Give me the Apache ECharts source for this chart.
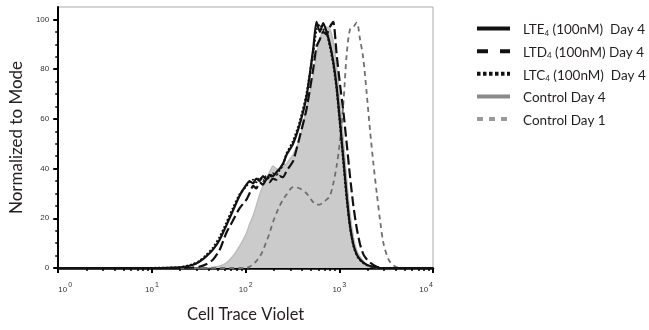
<!DOCTYPE html>
<html><head><meta charset="utf-8">
<script src="https://cdn.jsdelivr.net/npm/echarts@6/dist/echarts.min.js"></script>
<style>html,body{margin:0;padding:0;background:#fff}#c{width:649px;height:330px}</style>
</head><body><div id="c"></div>
<script>
// Cell Trace Violet intensity (x, log scale)
const xValues = [1, 10, 20, 27, 32, 38, 45, 53, 62, 73,
  86, 102, 110, 120, 130, 141, 153, 166, 180, 196,
  213, 231, 251, 273, 321, 379, 447, 526, 571, 620,
  674, 731, 794, 862, 936, 1016, 1104, 1199, 1300, 1413,
  1534, 1665, 1807, 1963, 2132, 2312, 2512, 2727, 2958, 3350,
  3793, 4470, 10000];
// Normalized to Mode (%)
const lte4 = [0, 0, 0.3, 1.2, 2.5, 4.7, 7.5, 11.5, 17, 23,
  29, 33.5, 35, 34, 36, 35, 37, 35.5, 37.5, 37,
  38.5, 40, 42, 45.5, 50, 58, 69, 88, 99, 95,
  98.5, 95, 90, 83, 73, 59, 44, 29, 17, 9.5,
  5.5, 3.4, 2.2, 1.3, 0.8, 0.4, 0.2, 0, 0, 0,
  0, 0, 0];
const ltd4 = [0, 0, 0, 0.2, 0.5, 1.5, 3.4, 7.4, 14, 19,
  24, 27.5, 30, 33, 32, 34.5, 33.5, 35.5, 34.5, 36,
  35.5, 37, 36.5, 39, 43, 53, 64, 80, 89, 92,
  95, 94, 97, 99, 86, 74, 63, 50, 37, 25,
  16, 9.5, 5.5, 3.5, 2.2, 1.2, 0.5, 0.2, 0, 0,
  0, 0, 0];
const ltc4 = [0, 0, 0.3, 1.4, 2.8, 5.2, 8.2, 12.5, 18, 24,
  29.5, 33, 34.5, 35.5, 34.5, 36.5, 35, 37, 36, 38,
  37.5, 39.5, 41.5, 46, 51, 59, 70, 87, 96, 98,
  96, 95, 89, 82, 72, 58, 43, 28, 16.5, 9,
  5.2, 3.2, 2, 1.2, 0.7, 0.3, 0.1, 0, 0, 0,
  0, 0, 0];
const controlDay4 = [0, 0, 0, 0, 0, 0, 0.3, 0.8, 2, 4.7,
  8.7, 14, 17.5, 21, 25, 29.5, 33, 36, 38.5, 41,
  40, 39.5, 40.5, 42, 45.5, 52, 64, 77, 85, 92,
  96, 97, 96, 91, 81, 67, 52, 36, 22, 12.5,
  7, 4.5, 2.8, 1.3, 0.6, 0.2, 0, 0, 0, 0,
  0, 0, 0];
const controlDay1 = [0, 0, 0, 0, 0, 0, 0, 0, 0, 0,
  0, 0, 0.5, 1.5, 2.8, 4.5, 7, 10.5, 14, 18.5,
  22, 25, 27.5, 29.5, 32.5, 32, 30, 26.5, 25.5, 25.5,
  26.5, 27.5, 29, 34, 41, 51, 66, 86, 96, 97,
  98.7, 92, 84, 70, 55, 42, 30, 19, 10, 3.5,
  1, 0, 0];

const seriesNames = ['LTE4 (100nM)  Day 4', 'LTD4 (100nM) Day 4', 'LTC4 (100nM)  Day 4', 'Control Day 4', 'Control Day 1'];

const xMajorTicks = [1, 10, 100, 1000, 10000];
const xMinorTicks = [2, 3, 4, 5, 6, 7, 8, 9, 20, 30, 40, 50, 60, 70, 80, 90,
  200, 300, 400, 500, 600, 700, 800, 900, 2000, 3000, 4000, 5000, 6000, 7000, 8000, 9000];
const yMajorTicks = [0, 20, 40, 60, 80, 100];
const yMinorTicks = [5, 10, 15, 25, 30, 35, 45, 50, 55, 65, 70, 75, 85, 90, 95];

const pairs = arr => xValues.map((x, i) => [x, arr[i]]);
const chart = echarts.init(document.getElementById('c'), null, {renderer: 'canvas'});
const FONT = 'Lato';
const TXT = '#231f20';
const noSymbol = {color: 'rgba(0,0,0,0)', borderColor: 'rgba(0,0,0,0)', borderWidth: 0};

const option = {
  animation: false,
  backgroundColor: '#fff',
  grid: {left: 58, right: 216, top: 7, bottom: 62, show: true, borderColor: '#aaa', borderWidth: 1, backgroundColor: 'transparent'},
  legend: {
    orient: 'vertical', left: 475, top: 23, padding: 0, itemWidth: 33, itemHeight: 14, itemGap: 8.5,
    selectedMode: false,
    textStyle: {fontFamily: FONT, fontSize: 13.5, color: TXT, padding: [0, 0, 0, 8],
      rich: {
        t: {fontFamily: FONT, fontSize: 13.5, color: TXT, lineHeight: 17, verticalAlign: 'bottom'},
        s: {fontFamily: FONT, fontSize: 8, color: TXT, lineHeight: 9, verticalAlign: 'bottom'}
      }},
    formatter: name => {
      const m = name.match(/^(LT[EDC])4(.*)$/);
      return m ? '{t|' + m[1] + '}{s|4}{t|' + m[2] + '}' : '{t|' + name + '}';
    },
    data: [
      {name: seriesNames[0], itemStyle: noSymbol, lineStyle: {color: '#111', width: 4, type: 'solid'}},
      {name: seriesNames[1], itemStyle: noSymbol, lineStyle: {color: '#111', width: 4, type: [11, 12]}},
      {name: seriesNames[2], itemStyle: noSymbol, lineStyle: {color: '#111', width: 4, type: [3.5, 2.5]}},
      {name: seriesNames[3], itemStyle: noSymbol, lineStyle: {color: '#8a8a8a', width: 4, type: 'solid'}},
      {name: seriesNames[4], itemStyle: noSymbol, lineStyle: {color: '#9a9a9a', width: 4, type: [6, 6]}}
    ]
  },
  xAxis: [{
    type: 'log', logBase: 10, min: 1, max: 10000, gridIndex: 0, position: 'bottom',
    axisLine: {show: true, onZero: false, lineStyle: {color: '#000', width: 2.5}},
    axisTick: {show: true, customValues: xMajorTicks, length: 5, lineStyle: {color: '#000', width: 2}},
    axisLabel: {
      customValues: xMajorTicks, margin: 13, alignMinLabel: 'left', alignMaxLabel: 'right',
      formatter: v => '{b|10}{s|' + Math.round(Math.log10(v)) + '}',
      rich: {
        b: {fontFamily: 'Liberation Sans', fontSize: 8, color: '#333', padding: [5, 0, 0, 0]},
        s: {fontFamily: 'Liberation Sans', fontSize: 7, color: '#333', padding: [0, 0, 5, 1]}
      }
    },
    splitLine: {show: false},
    name: 'Cell Trace Violet', nameLocation: 'middle', nameGap: 38,
    nameTextStyle: {fontFamily: FONT, fontSize: 16.5, color: TXT}
  }, {
    type: 'log', logBase: 10, min: 1, max: 10000, gridIndex: 0, position: 'bottom',
    axisLine: {show: false},
    axisTick: {show: true, customValues: xMinorTicks, length: 3, lineStyle: {color: '#000', width: 1.5}},
    axisLabel: {show: false},
    splitLine: {show: false}
  }],
  yAxis: [{
    type: 'value', min: 0, max: 105, gridIndex: 0, position: 'left',
    axisLine: {show: true, onZero: false, lineStyle: {color: '#000', width: 2}},
    axisTick: {show: true, customValues: yMajorTicks, length: 5, lineStyle: {color: '#000', width: 2}},
    axisLabel: {customValues: yMajorTicks, fontFamily: 'Liberation Sans', fontSize: 8, color: '#333', margin: 9},
    splitLine: {show: false},
    name: 'Normalized to Mode', nameLocation: 'middle', nameGap: 27,
    nameTextStyle: {fontFamily: FONT, fontSize: 17, color: TXT}
  }, {
    type: 'value', min: 0, max: 105, gridIndex: 0, position: 'left',
    axisLine: {show: false},
    axisTick: {show: true, customValues: yMinorTicks, length: 3, lineStyle: {color: '#000', width: 1.5}},
    axisLabel: {show: false},
    splitLine: {show: false}
  }],
  series: [
    {name: seriesNames[3], type: 'line', z: 1, symbol: 'none', smooth: 0.2, data: pairs(controlDay4),
      lineStyle: {color: '#bdbdbd', width: 1.5}, areaStyle: {color: '#cbcbcb', opacity: 1}, itemStyle: {color: '#8a8a8a'}},
    {name: seriesNames[4], type: 'line', z: 2, symbol: 'none', smooth: 0.3, data: pairs(controlDay1),
      lineStyle: {color: '#6f6f6f', width: 1.8, type: [5, 4]}, itemStyle: {color: '#9a9a9a'}},
    {name: seriesNames[1], type: 'line', z: 3, symbol: 'none', smooth: 0.2, data: pairs(ltd4),
      lineStyle: {color: '#111', width: 2.2, type: [10, 4]}, itemStyle: {color: '#111'}},
    {name: seriesNames[2], type: 'line', z: 4, symbol: 'none', smooth: 0.2, data: pairs(ltc4),
      lineStyle: {color: '#111', width: 2.2, type: [2, 2]}, itemStyle: {color: '#111'}},
    {name: seriesNames[0], type: 'line', z: 5, symbol: 'none', smooth: 0.2, data: pairs(lte4),
      lineStyle: {color: '#111', width: 2.2}, itemStyle: {color: '#111'}}
  ]
};
chart.setOption(option);
</script>
</body></html>
